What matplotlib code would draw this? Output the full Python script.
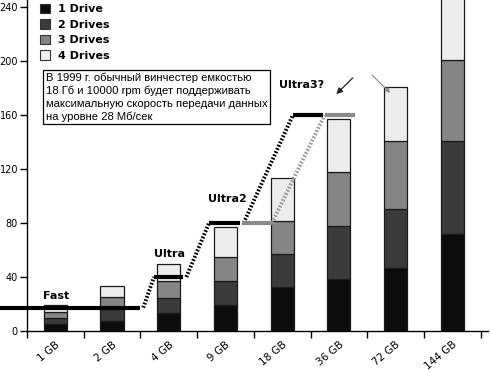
import numpy as np
import matplotlib
matplotlib.use('Agg')
import matplotlib.pyplot as plt
from matplotlib.patches import Patch

# bar data: per-drive increments of throughput (MB/s), stacked
capacities = ['1 GB', '2 GB', '4 GB', '9 GB', '18 GB', '36 GB', '72 GB', '144 GB']
drive_labels = ['1 Drive', '2 Drives', '3 Drives', '4 Drives']
drive1 = [5.2, 7.7, 13.2, 19.3, 32.8, 38.5, 46.7, 71.9]
drive2 = [4.3, 8.3, 11.0, 18.0, 24.0, 39.3, 43.7, 68.8]
drive3 = [4.3, 9.4, 13.0, 17.7, 24.7, 40.2, 50.3, 60.0]
drive4 = [5.5, 8.2, 12.8, 22.3, 31.5, 38.8, 39.8, 80.0]
drive_colors = ['#0c0c0c', '#3b3b3b', '#858585', '#ececec']

# SCSI interface levels and where their lines run (category units)
iface_names = ['Fast', 'Ultra', 'Ultra2', 'Ultra3?']
iface_speed = [17.3, 40, 80, 160]
iface_start = [-0.975, 1.74, 2.71, 4.19]
iface_end = [1.49, 2.25, 3.26, 4.72]
# second (gray) track for the 18 GB -> 36 GB step
gray_speed = [80, 160]
gray_start = [3.29, 4.75]
gray_end = [3.82, 5.28]

note = ("В 1999 г. обычный винчестер емкостью\n"
        "18 Гб и 10000 rpm будет поддерживать\n"
        "максимальную скорость передачи данных\n"
        "на уровне 28 Мб/сек")

fig = plt.figure(figsize=(4.9, 3.72), dpi=100)
ax = fig.add_axes([27 / 490, 1 - 331 / 372, 461 / 490, 331 / 372])

x = np.arange(len(capacities))
bottom = np.zeros(len(capacities))
for vals, col in zip([drive1, drive2, drive3, drive4], drive_colors):
    ax.bar(x, vals, width=0.41, bottom=bottom, color=col, edgecolor='#1a1a1a', linewidth=0.9, zorder=2)
    bottom += np.array(vals)

# interface lines: solid plateaus joined by dotted ramps
for i in range(len(iface_speed)):
    ax.plot([iface_start[i], iface_end[i]], [iface_speed[i], iface_speed[i]], color='black', lw=3,
            solid_capstyle='butt', zorder=4, clip_on=False)
    if i > 0:
        ax.plot([iface_end[i - 1] + 0.06, iface_start[i]], [iface_speed[i - 1], iface_speed[i]],
                color='black', lw=2.8, linestyle=(0, (0.45, 0.45)), zorder=4)
for i in range(len(gray_speed)):
    ax.plot([gray_start[i], gray_end[i]], [gray_speed[i], gray_speed[i]], color='#8a8a8a', lw=3,
            solid_capstyle='butt', zorder=4)
ax.plot([gray_end[0], gray_start[1]], [gray_speed[0], gray_speed[1]], color='#9a9a9a', lw=2.8,
        linestyle=(0, (0.45, 0.45)), zorder=4)

# labels for the interfaces
label_pos = [(0.02, 26), (2.01, 57), (3.03, 97.5), (4.35, 182)]
for name, (lx, ly) in zip(iface_names, label_pos):
    ax.text(lx, ly, name, fontsize=8, fontweight='bold', ha='center', va='center', zorder=5)

# arrows
ax.annotate('', xy=(4.92, 174), xytext=(5.28, 189),
            arrowprops=dict(arrowstyle='-|>', color='#222222', lw=0.9, mutation_scale=9))
ax.annotate('', xy=(5.94, 175), xytext=(5.55, 191),
            arrowprops=dict(arrowstyle='-|>', color='#8a8a8a', lw=0.8, mutation_scale=7))

ax.text(-0.17, 191.5, note, fontsize=8.1, family='Liberation Sans', ha='left', va='top',
        linespacing=1.32, zorder=6,
        bbox=dict(boxstyle='square,pad=0.22', facecolor='white', edgecolor='black', lw=0.9))

ax.set_xlim(-0.5, 7.63)
ax.set_ylim(0, 245.2)
ax.set_yticks([0, 40, 80, 120, 160, 200, 240])
ax.set_xticks(x)
ax.set_xticklabels(capacities, rotation=40, ha='right', rotation_mode='anchor', fontsize=7.5)
ax.set_xticks(np.arange(-0.5, 8, 1), minor=True)
ax.tick_params(axis='x', which='major', length=0, pad=6)
ax.tick_params(axis='x', which='minor', length=5, width=1, direction='out')
ax.tick_params(axis='y', length=5, width=1, labelsize=7, pad=1.5)
ax.spines['top'].set_visible(False)
ax.spines['right'].set_visible(False)
ax.spines['left'].set_linewidth(1)
ax.spines['bottom'].set_linewidth(1)

handles = [Patch(facecolor=c, edgecolor='#333333', lw=0.8) for c in drive_colors]
fig.legend(handles, drive_labels, loc='upper left', bbox_to_anchor=(40 / 490, 1 - 4 / 372),
           frameon=False, prop={'weight': 'bold', 'size': 8}, handlelength=0.9, handleheight=0.9,
           handletextpad=0.7, labelspacing=0.45, borderpad=0, borderaxespad=0)

fig.savefig('out.png', dpi=100)
